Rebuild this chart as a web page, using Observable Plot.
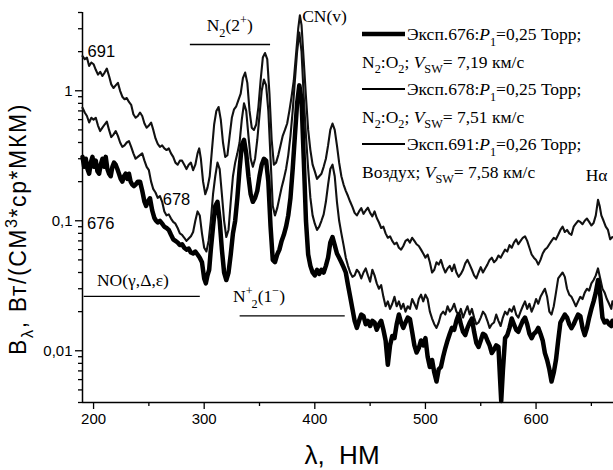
<!DOCTYPE html>
<html><head><meta charset="utf-8">
<script src="https://cdn.jsdelivr.net/npm/d3@7"></script>
<script src="https://cdn.jsdelivr.net/npm/@observablehq/plot@0.6"></script>
<style>body{margin:0;background:#fff}</style>
</head><body><div id="chart"></div>
<script>
// ---- data ----
const wl691 = [190,192,194,196,198,200,202,204,206,208,210,212,214,216,218,220,222,224,226,228,230,232,234,236,238,240,242,244,246,248,250,252,254,256,258,260,262,264,266,268,270,272,274,276,278,280,282,284,286,288,290,292,294,295.5,297,299,301,303,305,307,309,311,313,315,317,319,321,323,325,327,329,331,333,335,337,339,341,343,345,347,349,351,353,355,357,359,361,363,365,367,369,371,373,375,377,379,381,383,385,386.5,388,390,392,394,396,398,400,402,404,406,408,410,412,414,416,418,420,422,424,426,428,430,432,434,436,438,440,442,444,446,448,450,452,454,456,458,460,462,464,466,468,470,472,474,476,478,480,482,484,486,488,490,492,494,496,498,500,502,504,506,508,510,512,514,516,518,520,522,524,526,528,530,532,534,536,538,540,542,544,546,548,550,552,554,556,558,560,562,564,566,568,570,572,574,576,578,580,582,584,586,588,590,592,594,596,598,600,602,604,606,608,610,612,614,616,618,620,622,624,626,628,630,632,634,636,638,640,642,644,646,648,650,652,654,656,657.5,659,661,663,665,667,669];
const v691 = [1.85,1.75,1.8,1.55,1.65,1.6,1.45,1.33,1.4,1.3,1.38,1.48,1.3,1.12,1.05,1.1,1.15,1.0,0.9,0.86,0.88,0.82,0.78,0.66,0.62,0.64,0.68,0.64,0.56,0.52,0.54,0.57,0.5,0.43,0.39,0.37,0.38,0.36,0.35,0.36,0.33,0.31,0.28,0.27,0.29,0.29,0.27,0.25,0.27,0.28,0.245,0.27,0.33,0.36,0.3,0.2,0.16,0.18,0.22,0.35,0.55,0.7,0.75,0.6,0.4,0.31,0.32,0.45,0.62,0.72,0.76,0.85,0.95,1.25,1.38,1.15,0.7,0.52,0.5,0.55,0.75,1.2,1.8,1.95,1.75,0.95,0.42,0.27,0.28,0.32,0.38,0.45,0.5,0.56,0.7,0.9,1.2,1.9,3.0,3.8,3.2,1.7,0.9,0.5,0.35,0.27,0.24,0.21,0.22,0.23,0.26,0.3,0.38,0.5,0.56,0.5,0.38,0.28,0.22,0.19,0.17,0.155,0.14,0.128,0.115,0.11,0.118,0.125,0.113,0.12,0.126,0.115,0.108,0.118,0.105,0.097,0.088,0.09,0.08,0.074,0.076,0.07,0.066,0.068,0.062,0.06,0.064,0.07,0.072,0.068,0.074,0.07,0.066,0.064,0.06,0.056,0.052,0.055,0.048,0.04,0.042,0.048,0.046,0.05,0.044,0.04,0.043,0.045,0.041,0.046,0.04,0.037,0.039,0.042,0.047,0.05,0.046,0.042,0.038,0.036,0.04,0.044,0.04,0.043,0.046,0.05,0.052,0.048,0.05,0.054,0.052,0.056,0.06,0.058,0.065,0.062,0.068,0.072,0.066,0.07,0.074,0.076,0.07,0.062,0.055,0.052,0.05,0.046,0.05,0.056,0.06,0.062,0.066,0.07,0.074,0.072,0.078,0.085,0.09,0.082,0.085,0.08,0.078,0.09,0.095,0.1,0.098,0.094,0.1,0.104,0.098,0.092,0.096,0.11,0.145,0.13,0.11,0.1,0.09,0.085,0.072,0.075];

const wl678 = [190,192,194,196,198,200,202,204,206,208,210,212,214,216,218,220,222,224,226,228,230,232,234,236,238,240,242,244,246,248,250,252,254,256,258,260,262,264,266,268,270,272,274,276,278,280,282,284,286,288,290,292,294,296,298,300,302,304,306,308,310,312,314,316,318,320,322,324,326,328,330,332,334,336,338,340,342,344,346,348,350,352,354,356,358,360,362,364,366,368,370,372,374,376,378,380,382,384,386,388,390,392,394,396,398,400,402,404,406,408,410,412,414,416,418,420,422,424,426,428,430,432,434,436,438,440,442,444,446,448,450,452,454,456,458,460,462,464,466,468,470,472,474,476,478,480,482,484,486,488,490,492,494,496,498,500,502,504,506,508,510,512,514,516,518,520,522,524,526,528,530,532,534,536,538,540,542,544,546,548,550,552,554,556,558,560,562,564,566,568,570,572,574,576,578,580,582,584,586,588,590,592,594,596,598,600,602,604,606,608,610,612,614,616,618,620,622,624,626,628,630,632,634,636,638,640,642,644,646,648,650,652,654,656,658,660,662,664,666,668,669];
const v678 = [0.74,0.68,0.64,0.57,0.62,0.6,0.62,0.54,0.49,0.52,0.55,0.58,0.5,0.44,0.46,0.49,0.45,0.4,0.37,0.38,0.4,0.41,0.37,0.33,0.3,0.31,0.32,0.33,0.29,0.26,0.245,0.2,0.175,0.165,0.15,0.155,0.14,0.118,0.11,0.112,0.104,0.098,0.095,0.088,0.08,0.078,0.074,0.07,0.073,0.076,0.082,0.1,0.118,0.11,0.08,0.062,0.058,0.07,0.1,0.16,0.22,0.28,0.25,0.16,0.1,0.075,0.085,0.14,0.22,0.28,0.33,0.4,0.6,0.8,0.7,0.45,0.3,0.26,0.3,0.42,0.65,1.0,1.22,1.1,0.7,0.3,0.13,0.11,0.125,0.15,0.18,0.21,0.25,0.32,0.45,0.7,1.2,2.0,2.8,2.0,0.9,0.45,0.25,0.15,0.11,0.095,0.085,0.09,0.1,0.112,0.14,0.19,0.25,0.27,0.22,0.14,0.1,0.08,0.065,0.052,0.045,0.04,0.037,0.038,0.042,0.04,0.036,0.04,0.043,0.038,0.034,0.042,0.038,0.033,0.03,0.032,0.026,0.022,0.024,0.021,0.023,0.026,0.022,0.024,0.021,0.023,0.02,0.022,0.021,0.025,0.023,0.021,0.025,0.027,0.024,0.027,0.025,0.02,0.0177,0.016,0.015,0.0165,0.019,0.02,0.019,0.022,0.02,0.021,0.023,0.02,0.019,0.021,0.018,0.02,0.022,0.019,0.021,0.018,0.016,0.0165,0.018,0.02,0.019,0.017,0.015,0.016,0.0165,0.019,0.017,0.0155,0.018,0.02,0.019,0.021,0.02,0.022,0.019,0.018,0.02,0.022,0.024,0.021,0.023,0.02,0.022,0.025,0.023,0.026,0.028,0.03,0.026,0.02,0.019,0.022,0.028,0.036,0.038,0.04,0.037,0.03,0.027,0.026,0.024,0.022,0.024,0.026,0.025,0.028,0.03,0.029,0.033,0.035,0.038,0.043,0.036,0.03,0.028,0.025,0.023,0.021,0.024];

const wl676 = [190,191.5,193,194.5,196,197.5,199,200.5,202,203.5,205,206.5,208,209.5,211,212.5,214,215.5,217,218.5,220,221.5,223,224.5,226,227.5,229,230.5,232,233.5,235,236.5,238,240,242,244,246,247.5,249,251,253,255,256.5,258,260,262,264,266,268,270,272,274,276,278,280,282,284,286,288,290,292,294,296,298,300,301.5,303,304.5,306,308,310,312,314,316,318,320,322,324,326,328,330,332,334,336,338,340,342,344,346,348,350,352,354,356,358,360,362,364,366,368,370,372,374,376,378,380,382,384,386,388,390,392,394,396,398,400,402,404,406,408,410,412,414,416,418,420,422,424,426,428,430,432,434,436,438,440,442,444,446,448,450,452,454,456,458,460,462,464,466,468,470,472,474,476,478,480,482,484,486,488,490,492,494,496,498,500,502,504,506,508,510,512,514,516,518,520,522,524,526,528,530,532,534,536,538,540,542,544,546,548,550,552,554,556,558,560,562,564,566,567.5,568.5,570,572,574,576,578,580,582,584,586,588,590,592,594,596,598,600,602,604,606,608,610,612,614,616,618,620,622,624,626,628,630,632,634,636,638,640,642,644,646,648,650,652,654,656,658,660,662,664,666,668,669];
const v676 = [0.31,0.26,0.3,0.25,0.23,0.28,0.31,0.26,0.29,0.24,0.23,0.27,0.3,0.26,0.31,0.25,0.23,0.22,0.26,0.28,0.27,0.25,0.23,0.21,0.2,0.22,0.23,0.21,0.23,0.2,0.19,0.185,0.19,0.2,0.2,0.17,0.14,0.13,0.14,0.149,0.12,0.105,0.1,0.097,0.1,0.095,0.09,0.088,0.085,0.078,0.072,0.07,0.068,0.065,0.066,0.062,0.06,0.061,0.057,0.056,0.058,0.055,0.052,0.048,0.036,0.033,0.038,0.042,0.06,0.09,0.13,0.14,0.1,0.06,0.04,0.035,0.04,0.055,0.08,0.1,0.15,0.25,0.38,0.42,0.33,0.22,0.16,0.14,0.15,0.17,0.22,0.27,0.3,0.29,0.2,0.09,0.05,0.048,0.055,0.06,0.07,0.078,0.09,0.11,0.15,0.25,0.45,0.8,1.1,0.85,0.3,0.1,0.055,0.045,0.04,0.038,0.042,0.039,0.042,0.04,0.045,0.052,0.068,0.075,0.065,0.056,0.052,0.048,0.044,0.04,0.032,0.026,0.021,0.017,0.015,0.017,0.019,0.0185,0.016,0.017,0.0155,0.017,0.0165,0.0145,0.016,0.017,0.0145,0.012,0.0078,0.011,0.013,0.0125,0.016,0.019,0.0165,0.015,0.0165,0.018,0.0175,0.014,0.011,0.0097,0.0105,0.012,0.011,0.0125,0.009,0.0075,0.0085,0.0068,0.0058,0.0072,0.0075,0.009,0.0105,0.012,0.0135,0.015,0.0145,0.017,0.019,0.016,0.014,0.0132,0.015,0.0165,0.0177,0.014,0.0115,0.0107,0.012,0.0135,0.0132,0.012,0.011,0.0096,0.0102,0.011,0.0107,0.006,0.0041,0.007,0.0125,0.0132,0.015,0.0177,0.016,0.0145,0.014,0.0155,0.017,0.018,0.016,0.0135,0.0125,0.0135,0.014,0.015,0.0135,0.012,0.0096,0.0085,0.0072,0.0058,0.0068,0.0085,0.012,0.0165,0.0177,0.019,0.018,0.016,0.0149,0.016,0.0175,0.019,0.0185,0.015,0.0132,0.015,0.018,0.021,0.024,0.028,0.035,0.027,0.018,0.0165,0.017,0.016,0.0155,0.017];

const xMajor = [200, 300, 400, 500, 600];
const xMinor = [250, 350, 450, 550, 650];
const yMajor = [1, 0.1, 0.01];
const yMajorLabels = ["1", "0,1", "0,01"];
const yMinor = [4,3,2,0.9,0.8,0.7,0.6,0.5,0.4,0.3,0.2,0.09,0.08,0.07,0.06,0.05,0.04,0.03,0.02,0.009,0.008,0.007,0.006,0.005,0.004];

const toRows = (wl, v) => wl.map((w, i) => ({wl: w, v: v[i]}));
const d691 = toRows(wl691, v691), d678 = toRows(wl678, v678), d676 = toRows(wl676, v676);

const SANS = "'Liberation Sans', Arial, sans-serif";
const SERIF = "'Liberation Serif', 'Times New Roman', serif";

const chart = Plot.plot({
  width: 613, height: 470,
  marginLeft: 82, marginRight: 0, marginTop: 12, marginBottom: 68,
  style: {fontFamily: SANS, fontSize: "15px", background: "white", color: "black"},
  x: {domain: [190, 670]},
  y: {type: "log", domain: [0.004, 4]},
  marks: [
    Plot.axisX({ticks: xMajor, tickSize: 7, tickPadding: 4, tickFormat: d => String(d), label: null, strokeWidth: 1.3}),
    Plot.axisX({ticks: xMinor, tickSize: 4, tickFormat: () => "", label: null, strokeWidth: 1.3}),
    Plot.axisY({ticks: yMajor, tickSize: 7, tickPadding: 3, tickFormat: d => yMajorLabels[yMajor.indexOf(d)], label: null, strokeWidth: 1.3}),
    Plot.axisY({ticks: yMinor, tickSize: 4, tickFormat: () => "", label: null, strokeWidth: 1.3}),
    Plot.ruleX([190], {strokeWidth: 1.5}),
    Plot.ruleY([0.004], {strokeWidth: 1.5}),
    Plot.line(d691, {x: "wl", y: "v", stroke: "#111", strokeWidth: 2.1, strokeLinejoin: "round"}),
    Plot.line(d678, {x: "wl", y: "v", stroke: "#111", strokeWidth: 2.1, strokeLinejoin: "round"}),
    Plot.line(d676, {x: "wl", y: "v", stroke: "#000", strokeWidth: 4.5, strokeLinejoin: "round"})
  ]
});
document.getElementById("chart").append(chart);

// ---- annotations & legend ----
const sx = chart.scale("x"), sy = chart.scale("y");
const svg = d3.select(chart);
const g = svg.append("g");

function rich(x, y, parts, {size = 17.5, family = SERIF, anchor = "start", rotate = 0, spacing = 0} = {}) {
  const t = g.append("text").attr("x", x).attr("y", y)
    .attr("font-size", size).attr("font-family", family)
    .attr("text-anchor", anchor).attr("fill", "black");
  if (spacing) t.attr("letter-spacing", spacing);
  if (rotate) t.attr("transform", `rotate(${rotate},${x},${y})`);
  let off = 0;
  for (const p of parts) {
    const target = p.sub ? size * 0.32 : p.sup ? -size * 0.4 : 0;
    const ts = t.append("tspan").text(p.t).attr("dy", target - off);
    if (p.sub || p.sup) ts.attr("font-size", size * 0.7);
    if (p.it) ts.attr("font-style", "italic");
    if (p.dx) ts.attr("dx", p.dx);
    off = target;
  }
  return t;
}
function seg(x1, x2, y, w = 1.3) {
  g.append("line").attr("x1", x1).attr("x2", x2).attr("y1", y).attr("y2", y)
    .attr("stroke", "black").attr("stroke-width", w);
}

// band annotations in data coordinates
rich(sx.apply(323.5), sy.apply(2.85), [{t: "N"}, {t: "2", sub: true}, {t: "(2"}, {t: "+", sup: true}, {t: ")"}], {anchor: "middle"});
seg(sx.apply(287.5), sx.apply(360), sy.apply(2.25));
rich(sx.apply(389), sy.apply(3.35), [{t: "CN(v)"}]);
rich(sx.apply(203.5), sy.apply(0.031), [{t: "NO(γ,Δ,ε)"}]);
seg(sx.apply(191.5), sx.apply(296.5), sy.apply(0.026));
rich(sx.apply(350), sy.apply(0.0235), [{t: "N"}, {t: "+", sup: true}, {t: "2", sub: true, dx: -1}, {t: "(1"}, {t: "−", sup: true}, {t: ")"}], {anchor: "middle"});
seg(sx.apply(332.5), sx.apply(427.5), sy.apply(0.0184));
rich(sx.apply(665), sy.apply(0.2), [{t: "Hα"}], {anchor: "end"});

// series labels
rich(sx.apply(195), sy.apply(1.8), [{t: "691"}], {family: SANS, size: 16.5});
rich(sx.apply(263), sy.apply(0.13), [{t: "678"}], {family: SANS, size: 16.5});
rich(sx.apply(194.5), sy.apply(0.085), [{t: "676"}], {family: SANS, size: 16.5});

// legend (inside plot, upper right)
const LX0 = 362, LX1 = 405, LT = 407, RH = 27.5, B0 = 40;
const legendRows = [
  {w: 4.5, exp: "676", p: "0,25", gas: [{t: "N"}, {t: "2", sub: true}, {t: ":O"}, {t: "2", sub: true}, {t: "; "}], vsw: "7,19"},
  {w: 2, exp: "678", p: "0,25", gas: [{t: "N"}, {t: "2", sub: true}, {t: ":O"}, {t: "2", sub: true}, {t: "; "}], vsw: "7,51"},
  {w: 2, exp: "691", p: "0,26", gas: [{t: "Воздух; "}], vsw: "7,58"}
];
legendRows.forEach((r, i) => {
  const b1 = B0 + i * 2 * RH, b2 = b1 + RH;
  seg(LX0, LX1, b1 - 6, r.w);
  rich(LT, b1, [{t: `Эксп.${r.exp}:`}, {t: "P", it: true}, {t: "1", sub: true}, {t: `=${r.p} Торр;`}]);
  rich(LX0, b2, [...r.gas, {t: "V", it: true}, {t: "SW", sub: true}, {t: `= ${r.vsw} км/с`}]);
});

// axis titles
rich(26, 229, [{t: "B"}, {t: "λ", sub: true}, {t: ", Вт/(СМ"}, {t: "3", sup: true}, {t: "*ср*МКМ)"}], {family: SANS, size: 23, anchor: "middle", rotate: -90, spacing: 1.6});
rich(342, 464, [{t: "λ,  НМ"}], {family: SANS, size: 26, anchor: "middle"});
</script>
</body></html>
